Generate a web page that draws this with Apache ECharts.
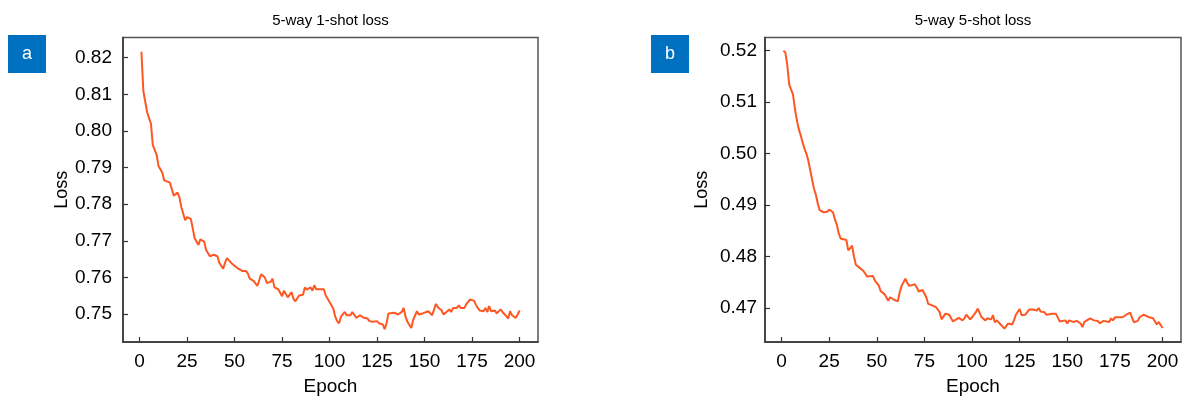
<!DOCTYPE html>
<html>
<head>
<meta charset="utf-8">
<script src="https://cdn.jsdelivr.net/npm/echarts@6/dist/echarts.min.js"></script>
<style>
html,body{margin:0;padding:0;background:#fff;}
#chart{width:1186px;height:401px;}
</style>
</head>
<body>
<div id="chart"></div>
<script>
// ---- data ----
const titles = ['5-way 1-shot loss', '5-way 5-shot loss'];
const panelLabels = ['a', 'b'];
const xTicks = [0, 25, 50, 75, 100, 125, 150, 175, 200];
const yTicks1 = [0.75, 0.76, 0.77, 0.78, 0.79, 0.80, 0.81, 0.82];
const yTicks2 = [0.47, 0.48, 0.49, 0.50, 0.51, 0.52];

const epochs1 = [1,2,4,6,7,9,10,12,13,14,16,18,20,21,22,24,25,27,28,29,31,32,34,35,36,37,39,41,42,44,45,46,47,49,50,52,54,56,57,58,60,62,63,64,66,67,69,70,71,73,75,76,77,78,80,81,82,84,86,87,88,90,91,92,93,95,97,98,100,101,102,103,104,105,106,107,108,109,111,112,113,114,116,117,118,120,121,123,125,126,127,128,129,130,131,132,134,135,136,138,139,140,141,143,144,146,147,149,150,152,153,154,156,157,159,160,161,163,164,165,167,168,169,171,172,174,176,177,178,179,181,182,183,184,185,187,188,190,191,193,194,195,196,198,199,200];
const loss1 = [0.8216,0.8109,0.8051,0.8020,0.7961,0.7935,0.7904,0.7886,0.7865,0.7868,0.7859,0.7823,0.7832,0.7819,0.7792,0.7756,0.7765,0.7760,0.7734,0.7707,0.7689,0.7704,0.7698,0.7676,0.7671,0.7658,0.7662,0.7658,0.7640,0.7624,0.7640,0.7653,0.7651,0.7636,0.7631,0.7624,0.7618,0.7618,0.7611,0.7597,0.7591,0.7577,0.7582,0.7609,0.7600,0.7585,0.7588,0.7597,0.7573,0.7568,0.7549,0.7564,0.7567,0.7546,0.7560,0.7542,0.7535,0.7551,0.7553,0.7573,0.7567,0.7573,0.7564,0.7579,0.7568,0.7568,0.7568,0.7551,0.7533,0.7528,0.7515,0.7493,0.7481,0.7475,0.7493,0.7497,0.7506,0.7497,0.7497,0.7506,0.7502,0.7490,0.7497,0.7502,0.7490,0.7488,0.7481,0.7479,0.7481,0.7475,0.7476,0.7472,0.7459,0.7475,0.7502,0.7506,0.7504,0.7508,0.7499,0.7506,0.7517,0.7493,0.7479,0.7462,0.7484,0.7508,0.7499,0.7502,0.7506,0.7508,0.7513,0.7497,0.7528,0.7519,0.7510,0.7499,0.7497,0.7513,0.7506,0.7517,0.7517,0.7524,0.7517,0.7517,0.7528,0.7540,0.7537,0.7526,0.7517,0.7510,0.7508,0.7517,0.7506,0.7522,0.7508,0.7510,0.7502,0.7513,0.7506,0.7495,0.7488,0.7508,0.7497,0.7490,0.7499,0.7510];

const epochs2 = [1,2,3,4,5,6,7,8,9,10,11,12,13,14,15,16,17,18,19,20,21,22,23,24,25,26,27,28,29,30,31,32,34,35,36,37,38,39,41,42,43,45,46,48,49,51,52,54,55,56,57,58,59,61,62,63,65,66,67,68,70,71,72,74,76,77,79,81,83,84,86,87,88,90,91,93,95,96,97,98,99,100,101,102,103,104,105,107,108,110,111,112,113,114,115,117,118,119,121,122,123,125,126,127,128,130,131,132,134,135,136,138,139,140,142,144,145,146,147,149,150,151,153,154,155,157,158,159,160,162,163,164,166,167,169,170,172,173,174,175,177,179,181,182,183,185,186,187,188,190,191,193,195,196,197,198,199,200];
const loss2 = [0.5200,0.5196,0.5172,0.5134,0.5137,0.5115,0.5087,0.5065,0.5048,0.5036,0.5022,0.5010,0.5000,0.4987,0.4985,0.4950,0.4932,0.4920,0.4903,0.4890,0.4887,0.4886,0.4888,0.4887,0.4891,0.4890,0.4886,0.4872,0.4862,0.4845,0.4835,0.4833,0.4832,0.4812,0.4816,0.4821,0.4800,0.4784,0.4778,0.4778,0.4772,0.4761,0.4761,0.4762,0.4753,0.4744,0.4733,0.4727,0.4724,0.4714,0.4721,0.4718,0.4716,0.4713,0.4730,0.4743,0.4757,0.4749,0.4743,0.4746,0.4746,0.4740,0.4732,0.4735,0.4721,0.4708,0.4705,0.4702,0.4692,0.4678,0.4689,0.4691,0.4687,0.4674,0.4675,0.4681,0.4676,0.4680,0.4687,0.4687,0.4678,0.4682,0.4684,0.4692,0.4699,0.4696,0.4682,0.4676,0.4680,0.4678,0.4686,0.4672,0.4676,0.4675,0.4668,0.4660,0.4663,0.4670,0.4668,0.4676,0.4687,0.4698,0.4686,0.4689,0.4687,0.4697,0.4695,0.4697,0.4695,0.4700,0.4693,0.4692,0.4687,0.4689,0.4689,0.4689,0.4687,0.4674,0.4672,0.4676,0.4670,0.4676,0.4673,0.4672,0.4675,0.4670,0.4663,0.4673,0.4676,0.4680,0.4679,0.4676,0.4675,0.4670,0.4675,0.4676,0.4673,0.4680,0.4676,0.4682,0.4682,0.4682,0.4687,0.4686,0.4691,0.4672,0.4672,0.4675,0.4682,0.4687,0.4687,0.4682,0.4680,0.4680,0.4668,0.4673,0.4667,0.4661];

// ---- layout ----
const grids = [
  {left: 123, top: 37.5, width: 415, height: 309.5},
  {left: 765, top: 37.5, width: 416, height: 309.5}
];
const yRanges = [[0.7424, 0.8255], [0.4634, 0.52254]];
const yTickSets = [yTicks1, yTicks2];
const FONT = 'Liberation Sans, Arial, Helvetica, sans-serif';
const AXIS_COLOR = '#333';
const LINE_COLOR = '#ff5722';

const chart = echarts.init(document.getElementById('chart'), null, {renderer: 'canvas'});

const option = {
  animation: false,
  backgroundColor: '#fff',
  textStyle: {fontFamily: FONT},
  title: titles.map((t, i) => ({
    text: t,
    left: grids[i].left + grids[i].width / 2,
    top: 13,
    textAlign: 'center',
    padding: 0,
    textStyle: {fontFamily: FONT, fontSize: 15, fontWeight: 'normal', color: '#000'}
  })),
  grid: grids.map(g => Object.assign({show: true, borderColor: '#555', borderWidth: 1.5, containLabel: false}, g)),
  xAxis: grids.map((g, i) => ({
    type: 'value', gridIndex: i, min: -8.7, max: 209.7,
    name: 'Epoch', nameLocation: 'middle', nameGap: 35,
    nameTextStyle: {fontFamily: FONT, fontSize: 19, color: '#000'},
    axisLine: {show: true, onZero: false, lineStyle: {color: AXIS_COLOR, width: 1.5}},
    axisTick: {show: true, inside: true, length: 5, customValues: xTicks, lineStyle: {color: AXIS_COLOR, width: 1.2}},
    axisLabel: {show: true, customValues: xTicks, margin: 10, fontFamily: FONT, fontSize: 19, color: '#000'},
    splitLine: {show: false}
  })),
  yAxis: grids.map((g, i) => ({
    type: 'value', gridIndex: i, min: yRanges[i][0], max: yRanges[i][1],
    name: 'Loss', nameLocation: 'middle', nameGap: i === 0 ? 52 : 54,
    nameTextStyle: {fontFamily: FONT, fontSize: 18, color: '#000'},
    axisLine: {show: true, onZero: false, lineStyle: {color: AXIS_COLOR, width: 1.5}},
    axisTick: {show: true, inside: true, length: 5, customValues: yTickSets[i], lineStyle: {color: AXIS_COLOR, width: 1.2}},
    axisLabel: {show: true, customValues: yTickSets[i], margin: i === 0 ? 11 : 8, fontFamily: FONT, fontSize: 19, color: '#000',
      formatter: v => Number(v).toFixed(2)},
    splitLine: {show: false}
  })),
  series: [
    {type: 'line', xAxisIndex: 0, yAxisIndex: 0, showSymbol: false, symbol: 'none',
     lineStyle: {color: LINE_COLOR, width: 2}, data: epochs1.map((e, k) => [e, loss1[k]])},
    {type: 'line', xAxisIndex: 1, yAxisIndex: 1, showSymbol: false, symbol: 'none',
     lineStyle: {color: LINE_COLOR, width: 2}, data: epochs2.map((e, k) => [e, loss2[k]])}
  ],
  graphic: [
    {type: 'rect', left: 8, top: 35, shape: {width: 38, height: 38}, style: {fill: '#0070c0'}},
    {type: 'text', x: 27, y: 54, style: {text: panelLabels[0], fill: '#fff', font: '18px ' + FONT, textAlign: 'center', textVerticalAlign: 'middle'}},
    {type: 'rect', left: 651, top: 35, shape: {width: 38, height: 38}, style: {fill: '#0070c0'}},
    {type: 'text', x: 670, y: 54, style: {text: panelLabels[1], fill: '#fff', font: '18px ' + FONT, textAlign: 'center', textVerticalAlign: 'middle'}}
  ]
};
chart.setOption(option);
</script>
</body>
</html>
